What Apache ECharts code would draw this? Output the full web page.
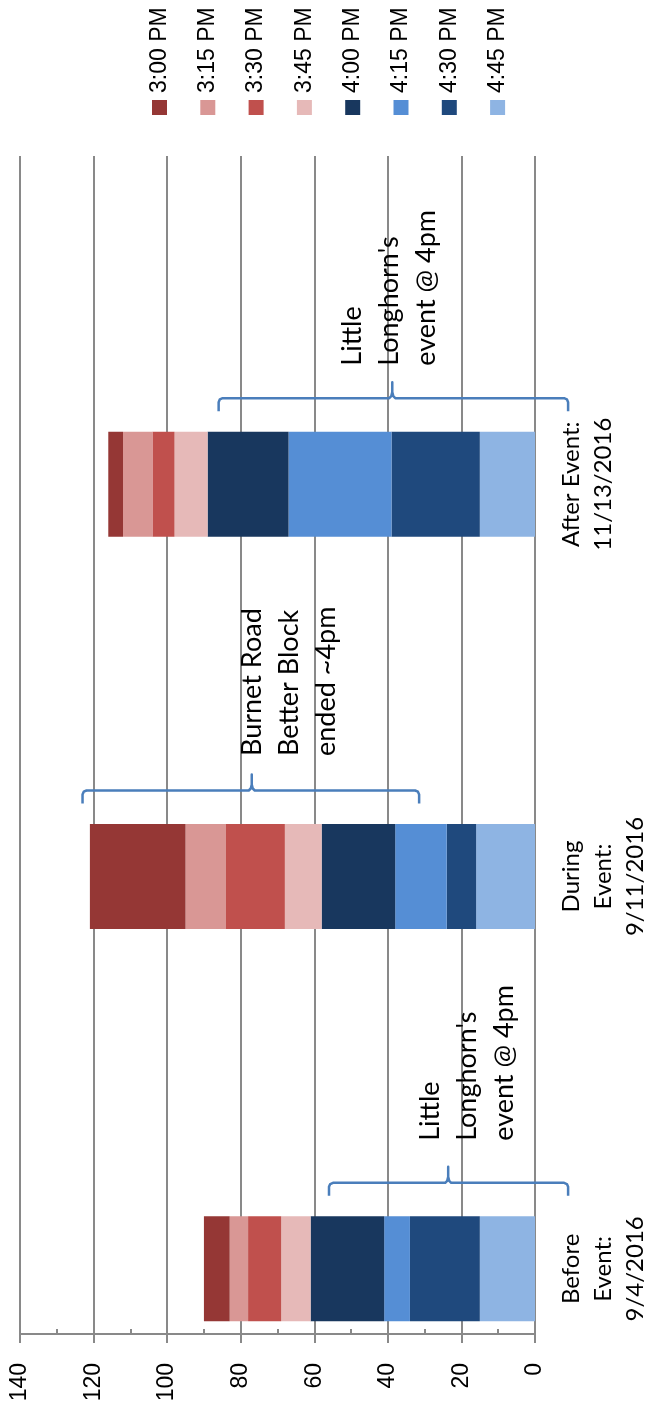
<!DOCTYPE html>
<html><head><meta charset="utf-8">
<script src="https://cdn.jsdelivr.net/npm/echarts@6/dist/echarts.min.js"></script>
<style>html,body{margin:0;padding:0;background:#fff}#c{width:663px;height:1410px}</style>
</head><body><div id="c"></div>
<script>
// ---- data ----
const categories = ['Before\nEvent:\n9/4/2016', 'During\nEvent:\n9/11/2016', 'After Event:\n11/13/2016'];
const seriesNames = ['3:00 PM', '3:15 PM', '3:30 PM', '3:45 PM', '4:00 PM', '4:15 PM', '4:30 PM', '4:45 PM'];
const s300 = [7, 26, 4];
const s315 = [5, 11, 8];
const s330 = [9, 16, 6];
const s345 = [8, 10, 9];
const s400 = [20, 20, 22];
const s415 = [7, 14, 28];
const s430 = [19, 8, 24];
const s445 = [15, 16, 15];
const annotationTexts = ["Little\nLonghorn's\nevent @ 4pm", "Burnet Road\nBetter Block\nended ~4pm", "Little\nLonghorn's\nevent @ 4pm"];
const braceFrom = [56, 123, 86];
const braceTo = [-9, 31.5, -9];
const braceTip = [23.6, 77, 38.8];
const textAt = [33.5, 81.8, 54.7];

// ---- styles ----
const seriesData = [s300, s315, s330, s345, s400, s415, s430, s445];
const seriesColors = ['#953735', '#D99795', '#C0504D', '#E6B9B8', '#18375E', '#558ED5', '#1F497D', '#8EB4E3'];
const stackOrder = [7, 6, 5, 4, 3, 2, 1, 0];
const textOffset = [-128, -120.5, -118.5];
const gridCol = '#898989';

const chart = echarts.init(document.getElementById('c'));
chart.setOption({
  animation: false,
  grid: [
    {left: 20, right: 128, top: 156, bottom: 76, containLabel: false, outerBoundsMode: 'none'},
    {left: 20, right: 128, top: 288, height: 1177, containLabel: false, outerBoundsMode: 'none'}
  ],
  xAxis: [
    {gridIndex: 0, type: 'value', min: 0, max: 140, interval: 20, inverse: true, position: 'bottom',
     axisLine: {show: true, lineStyle: {color: gridCol, width: 2}},
     axisTick: {show: true, inside: false, length: 9, lineStyle: {color: gridCol, width: 2}},
     axisLabel: {rotate: 90, margin: 29, fontFamily: 'Liberation Sans', fontSize: 23, color: '#000'},
     splitLine: {show: true, showMinLine: true, showMaxLine: true, lineStyle: {color: gridCol, width: 2}}},
    {gridIndex: 0, type: 'value', min: 0, max: 140, interval: 10, inverse: true, position: 'bottom',
     axisLine: {show: false},
     axisTick: {show: true, inside: true, length: 5, lineStyle: {color: gridCol, width: 2}},
     axisLabel: {show: false}, splitLine: {show: false}},
    {gridIndex: 1, type: 'value', min: 0, max: 140, inverse: true, show: false}
  ],
  yAxis: [
    {gridIndex: 0, type: 'value', min: 0, max: 1, show: false},
    {gridIndex: 1, type: 'category', data: categories, position: 'right',
     axisLine: {show: false}, axisTick: {show: false}, splitLine: {show: false},
     axisLabel: {interval: 0, rotate: 90, margin: 20, fontFamily: 'Lato', fontSize: 24, lineHeight: 32, color: '#000'}}
  ],
  series: stackOrder.map(i => ({
    name: seriesNames[i], type: 'bar', xAxisIndex: 2, yAxisIndex: 1, stack: 'total',
    barWidth: 105, data: seriesData[i], itemStyle: {color: seriesColors[i]},
    emphasis: {disabled: true}
  }))
});

const elements = [];
categories.forEach((c, i) => {
  const px = v => chart.convertToPixel({gridIndex: 1}, [v, i])[0];
  const cy = chart.convertToPixel({gridIndex: 1}, [0, i])[1];
  const xL = px(braceFrom[i]), xR = px(braceTo[i]), xc = px(braceTip[i]);
  const yL = cy - 86, yH = cy - 73, yC = cy - 102;
  elements.push({
    type: 'polyline', silent: true,
    shape: {points: [[xL, yH], [xL, yL + 4], [xL + 1.2, yL + 1.2], [xL + 4, yL], [xc - 3, yL], [xc - 1, yL - 2], [xc, yL - 6], [xc, yC],
                     [xc, yL - 6], [xc + 1, yL - 2], [xc + 3, yL], [xR - 4, yL], [xR - 1.2, yL + 1.2], [xR, yL + 4], [xR, yH]]},
    style: {stroke: '#4A7EBB', lineWidth: 2.5, fill: null, lineJoin: 'round'}
  });
  elements.push({
    type: 'text', silent: true, x: px(textAt[i]), y: cy + textOffset[i], rotation: Math.PI / 2,
    style: {text: annotationTexts[i], fontFamily: 'Lato', fontSize: 27, lineHeight: 37, fill: '#000', align: 'left', verticalAlign: 'top'}
  });
});
seriesNames.forEach((n, i) => {
  const x = 159.5 + i * 48.3;
  elements.push({type: 'rect', silent: true, shape: {x: x - 7.5, y: 100, width: 15, height: 15}, style: {fill: seriesColors[i]}});
  elements.push({type: 'text', silent: true, x: x, y: 93, rotation: Math.PI / 2,
    style: {text: n, fontFamily: 'Liberation Sans', fontSize: 23, fill: '#000', align: 'left', verticalAlign: 'middle'}});
});
chart.setOption({graphic: elements});
</script>
</body></html>
